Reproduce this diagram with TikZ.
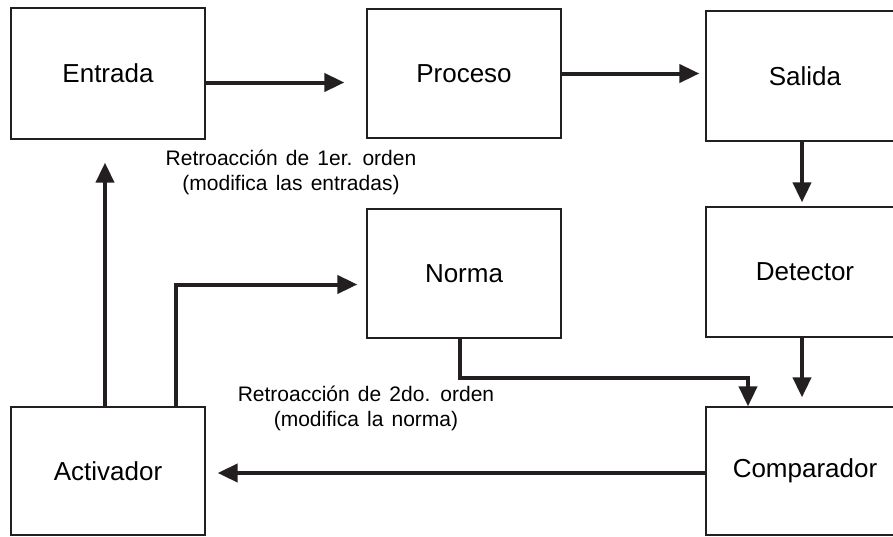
\documentclass[tikz,border=0pt]{standalone}
\usepackage{fontspec}
\setmainfont{Liberation Sans}
\newfontfamily\notefont{Liberation Sans}[WordSpace=1.4]
\usetikzlibrary{positioning, arrows.meta, calc}
\definecolor{ink}{RGB}{35,31,32}
\tikzset{
    block/.style={draw=ink, line width=1.3pt, minimum width=194pt, minimum height=129pt, inner sep=0pt, text=black, font=\fontsize{26}{31}\selectfont},
    wide_block/.style={block, minimum width=198pt},
    signal_arrow/.style={draw=ink, line width=4pt, -{Triangle[length=20pt, width=18pt]}},
    note/.style={font=\notefont\fontsize{21}{25}\selectfont, align=center, text=black}
}

\begin{document}
\begin{tikzpicture}[x=1pt, y=-1pt]
      \useasboundingbox (0,0) rectangle (893,536);

      % --- Blocks ---
      \node (entrada) [block, minimum height=131pt] at (108,73.5) {Entrada};
      \node (proceso) [block] at (464,73.5) {Proceso};
      \node (salida) [wide_block, minimum height=130pt] at (805,76) {Salida};
      \node (norma) [block] at (464,273.5) {Norma};
      \node (detector) [wide_block, minimum height=130pt] at (805,272) {Detector};
      \node (activador) [block, minimum height=128pt] at (108,471) {Activador};
      \node (comparador) [wide_block, minimum height=128pt] at (805,471) {Comparador};

      % --- Main chain ---
      \draw[signal_arrow, shorten >=22pt] ([yshift=-9pt]entrada.east) -- ([yshift=-9pt]proceso.west);
      \draw[signal_arrow, shorten >=6pt] (proceso.east) -- (proceso.east -| salida.west);
      \draw[signal_arrow, shorten >=4pt] ([xshift=-3pt]salida.south) -- ([xshift=-3pt]detector.north);
      \draw[signal_arrow, shorten >=9pt] ([xshift=-3pt]detector.south) -- ([xshift=-3pt]comparador.north);

      % --- Norma into comparador ---
      \coordinate (norma_in) at ([xshift=-57pt]comparador.north);
      \draw[signal_arrow] ([xshift=-4pt]norma.south) -- ++(0,39) -| (norma_in);

      % --- Feedback loops ---
      \draw[signal_arrow, shorten >=12pt] ([yshift=-2pt]comparador.west) -- ([yshift=-2pt]comparador.west -| activador.east);
      \draw[signal_arrow, shorten >=23pt] ([xshift=-3pt]activador.north) -- ([xshift=-3pt]activador.north |- entrada.south);
      \draw[signal_arrow, shorten >=9pt] ([xshift=68pt]activador.north) |- ([yshift=-11pt]norma.west);

      % --- Labels ---
      \node (first_order) [note] at (291,172) {Retroacción de 1er. orden\\(modifica las entradas)};
      \node (second_order) [note] at (366,408) {Retroacción de 2do. orden\\(modifica la norma)};
\end{tikzpicture}
\end{document}
